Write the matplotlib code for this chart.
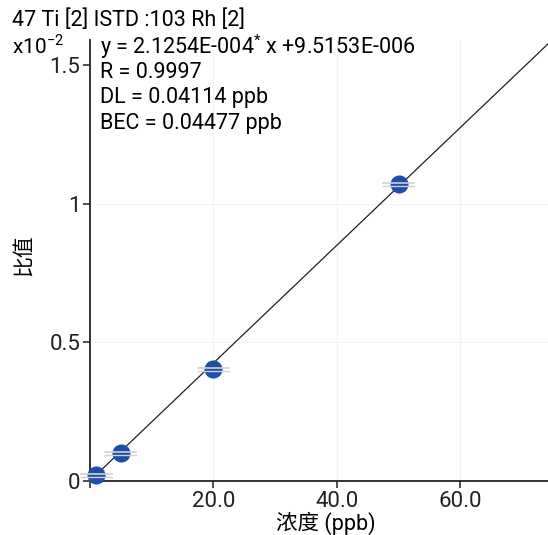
import matplotlib
matplotlib.use("Agg")
import matplotlib.pyplot as plt
import numpy as np

plt.rcParams['font.family'] = ['Roboto', 'Noto Sans CJK SC', 'DejaVu Sans']

conc = [1.0, 5.0, 20.0, 50.0]
ratio = [0.022, 0.101, 0.404, 1.072]
slope = 2.1254e-4 * 100
intercept = 9.5153e-6 * 100
x_ticks = [20, 40, 60]
x_tick_labels = ["20.0", "40.0", "60.0"]
y_ticks = [0, 0.5, 1, 1.5]
y_tick_labels = ["0", "0.5", "1", "1.5"]

fig = plt.figure(figsize=(5.48, 5.35), dpi=100)
ax = fig.add_axes([90/548, 54/535, 1 - 90/548, (481-40)/535])
ax.set_xlim(0, 74.2)
ax.set_ylim(0, 1.592)

for v in x_ticks:
    ax.axvline(v, color='#eef3f5', lw=0.8, zorder=0)
for v in [0.5, 1.0]:
    ax.axhline(v, color='#eef3f5', lw=0.8, zorder=0)

xl = np.array([0, 74.2])
ax.plot(xl, slope * xl + intercept, color='#202020', lw=0.9, zorder=2)

ax.plot(conc, ratio, 'o', color='#1d4fa6', ms=12, zorder=3, clip_on=False)
for c, r in zip(conc, ratio):
    ax.plot([c - 2.5, c + 2.5], [r + 0.004, r + 0.004], color='#cdd1d8', lw=1.2, zorder=4, clip_on=False)
    ax.plot([c - 2.5, c + 2.5], [r - 0.006, r - 0.006], color='#cdd1d8', lw=1.0, zorder=4, clip_on=False)

for s in ['top', 'right']:
    ax.spines[s].set_visible(False)
for s in ['left', 'bottom']:
    ax.spines[s].set_linewidth(1.3)
    ax.spines[s].set_color('#222222')

ax.set_xticks([0] + x_ticks)
ax.set_xticklabels([""] + x_tick_labels)
ax.set_yticks(y_ticks)
ax.set_yticklabels(y_tick_labels)
ax.tick_params(direction='out', length=5, width=1.1, labelsize=16, colors='#222222', pad=2)

ax.set_xlabel("浓度 (ppb)", fontsize=15.5, labelpad=0)
ax.xaxis.set_label_coords((326 - 90) / (548 - 90), -0.07)
ax.set_ylabel("比值", fontsize=15)
ax.yaxis.set_label_coords(-(90 - 33) / (548 - 90), (481 - 255) / (481 - 40))

fig.text(12/548, 1 - 20/535, "47 Ti [2] ISTD :103 Rh [2]", fontsize=15.5, va='center', ha='left')
fig.text(12/548, 1 - 46/535, r"x10$^{\mathregular{-2}}$", fontsize=15, va='center', ha='left')

lines = ["y = 2.1254E-004$^{\\mathregular{*}}$ x +9.5153E-006", "R = 0.9997", "DL = 0.04114 ppb", "BEC = 0.04477 ppb"]
for i, t in enumerate(lines):
    fig.text(100/548, 1 - (47 + i * 25.5)/535, t, fontsize=15.5, va='center', ha='left')

fig.savefig("out.png", dpi=100)
